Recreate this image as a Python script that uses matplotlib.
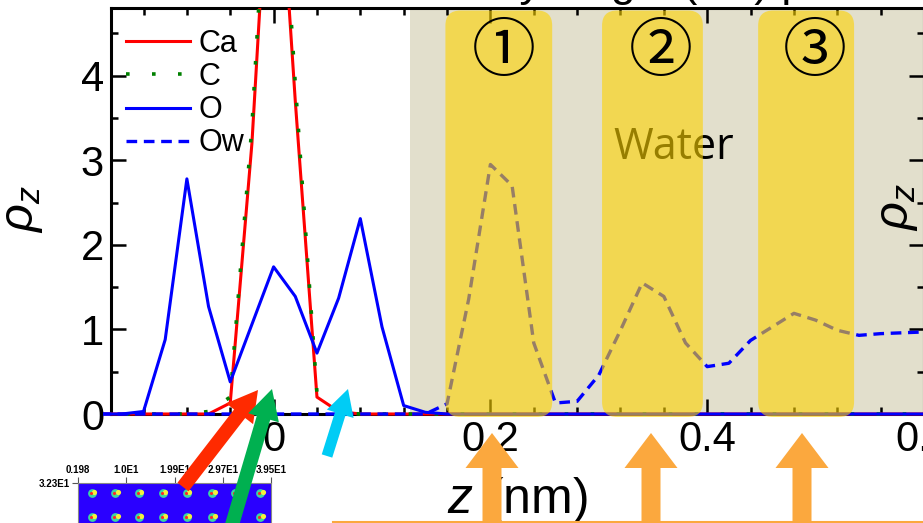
import matplotlib
matplotlib.use("Agg")
import matplotlib.pyplot as plt
from matplotlib.patches import FancyBboxPatch, FancyArrow, Rectangle
from matplotlib.ticker import MultipleLocator, FuncFormatter
from matplotlib.lines import Line2D

plt.rcParams['font.family'] = ['Liberation Sans', 'DejaVu Sans']
plt.rcParams['mathtext.fontset'] = 'custom'
plt.rcParams['mathtext.it'] = 'Liberation Sans:italic'
plt.rcParams['mathtext.rm'] = 'Liberation Sans'

# ---------------- data ----------------
z = [-0.16, -0.14, -0.12, -0.10, -0.08, -0.06, -0.04, -0.02, 0.00, 0.02,
     0.04, 0.06, 0.08, 0.10, 0.12, 0.14, 0.16, 0.18, 0.20, 0.22,
     0.24, 0.26, 0.28, 0.30, 0.32, 0.34, 0.36, 0.38, 0.40, 0.42,
     0.44, 0.46, 0.48, 0.50, 0.52, 0.54, 0.56, 0.58, 0.60]
rho_Ca = [0, 0, 0, 0, 0, 0.0, 0.13, 3.2, 7.6, 3.7,
          0.2, 0.03, 0, 0, 0, 0, 0, 0, 0, 0,
          0, 0, 0, 0, 0, 0, 0, 0, 0, 0,
          0, 0, 0, 0, 0, 0, 0, 0, 0]
rho_C = [0, 0, 0, 0, 0, 0.03, 0.2, 3.4, 7.9, 3.9,
         0.25, 0.02, 0, 0, 0, 0, 0, 0, 0, 0,
         0, 0, 0, 0, 0, 0, 0, 0, 0, 0,
         0, 0, 0, 0, 0, 0, 0, 0, 0]
rho_O = [0, 0, 0.03, 0.88, 2.78, 1.27, 0.38, 1.06, 1.74, 1.39,
         0.72, 1.37, 2.31, 1.03, 0.10, 0.02, 0, 0, 0, 0,
         0, 0, 0, 0, 0, 0, 0, 0, 0, 0,
         0, 0, 0, 0, 0, 0, 0, 0, 0]
rho_Ow = [0, 0, 0, 0, 0, 0, 0, 0, 0, 0,
          0, 0, 0, 0, 0, 0, 0.12, 1.36, 2.95, 2.70,
          0.84, 0.13, 0.15, 0.46, 0.99, 1.55, 1.39, 0.84, 0.56, 0.60,
          0.87, 1.03, 1.19, 1.11, 0.99, 0.93, 0.95, 0.96, 0.97]

series_names = ['Ca', 'C', 'O', 'Ow']
layer_labels = ['\u2460', '\u2461', '\u2462']
layer_centers = [0.212, 0.357, 0.4995]
layer_bounds = [(0.1585, 0.257), (0.303, 0.396), (0.447, 0.5355)]
water_start = 0.126
xtick_vals = [0.0, 0.2, 0.4, 0.6]
ytick_vals = [0, 1, 2, 3, 4]

inset_xticks = [0.198, 10.0, 19.9, 29.7, 39.5]
inset_xlabels = ['0.198', '1.0E1', '1.99E1', '2.97E1', '3.95E1']
inset_ytick = 32.3
inset_ylabel = '3.23E1'
blob_x = [3.0, 7.8, 12.6, 17.5, 22.4, 27.5, 32.2, 37.3]
blob_y = [30.3, 25.4]

# ---------------- figure ----------------
W, H = 923, 523
fig = plt.figure(figsize=(W / 100, H / 100), dpi=100)
ax = fig.add_axes([111 / W, 1 - 414 / H, 813 / W, 406 / H])
ax.set_xlim(-0.15, 0.60)
ax.set_ylim(0, 4.8)

grey = '#E2DFCC'
ax.axvspan(water_start, 0.7, color=grey, zorder=0, lw=0)

clip = Rectangle((-0.01, -0.03), 1.02, 1.03, transform=ax.transAxes,
                 facecolor='none', edgecolor='none')
ax.add_patch(clip)

lCa, = ax.plot(z, rho_Ca, color='#FF0000', lw=2.2, zorder=3.0)
lC, = ax.plot(z, rho_C, color='#008000', lw=2.6, ls=(0, (1, 6.2)), zorder=3.1)
lO, = ax.plot(z, rho_O, color='#0000FF', lw=2.2, zorder=3.2)
lOw, = ax.plot(z, rho_Ow, color='#0000FF', lw=2.4, ls=(0, (3.2, 2.0)), zorder=3.3)
for ln in (lO, lCa, lC, lOw):
    ln.set_clip_path(clip)

ax.set_xticks(xtick_vals)
ax.xaxis.set_minor_locator(MultipleLocator(0.04))
ax.xaxis.set_major_formatter(FuncFormatter(lambda v, p: '%g' % v))
ax.set_yticks(ytick_vals)
ax.yaxis.set_minor_locator(MultipleLocator(0.5))
ax.tick_params(which='both', direction='in', top=True, right=True, width=1.8,
               colors='black', labelsize=30)
ax.tick_params(which='major', length=11)
ax.tick_params(which='minor', length=5)
ax.tick_params(axis='x', pad=4)
ax.tick_params(axis='y', pad=5)
for s in ax.spines.values():
    s.set_linewidth(2.2)
    s.set_zorder(2.5)

ax.set_ylabel(r'$\rho_z$', fontsize=35)
ax.yaxis.set_label_coords(-0.081, 0.505)
ax.set_xlabel(r'$z$ (nm)', fontsize=36)
ax.xaxis.set_label_coords(0.5, -0.150)

leg = ax.legend([lCa, lC, lO, lOw], series_names, loc='upper left',
                bbox_to_anchor=(0.018, 0.948), frameon=False, fontsize=22,
                borderpad=0, borderaxespad=0, handlelength=2.1,
                handletextpad=0.3, labelspacing=0.1)
leg.set_zorder(6)

ax.text(0.313, 3.02, 'Water', fontsize=31, family=['Open Sans', 'DejaVu Sans'],
        color='black', va='baseline', ha='left', zorder=6)

# ---------- figure-level overlays (pixel based via inches) ----------
def to_in(xd, yd):
    X, Y = ax.transData.transform((xd, yd))
    return X / 100, Y / 100

for (a, b) in layer_bounds:
    x0, y0 = to_in(a, -0.035)
    x1, y1 = to_in(b, 4.77)
    box = FancyBboxPatch((x0, y0), x1 - x0, y1 - y0,
                         boxstyle='round,pad=0,rounding_size=0.15',
                         transform=fig.dpi_scale_trans, facecolor='#FDD300',
                         edgecolor='none', alpha=0.6, zorder=5)
    fig.add_artist(box)

for lab, zc in zip(layer_labels, layer_centers):
    xi, yi = to_in(zc, 4.27)
    fig.text(xi, yi, lab, transform=fig.dpi_scale_trans, ha='center', va='center',
             fontsize=46, family=['Noto Sans CJK JP', 'DejaVu Sans'],
             color='black', zorder=7)

# right partial ylabel of neighbouring panel
fig.text(897 / W, 1 - 207 / H, r'$\rho_z$', rotation=90, ha='center', va='center',
         fontsize=35, zorder=4)

# cut title at top
fig.text(413 / W, 1 + 4 / H, 'ces by single (Ca) po', fontsize=32,
         ha='left', va='baseline')

# inset heat map
ins = fig.add_axes([78 / W, 1 - 540 / H, 193 / W, 57 / H])
ins.set_facecolor('#2A00FF')
ins.set_xlim(0.198, 39.5)
ins.set_ylim(20.6, 32.3)
ins.xaxis.tick_top()
ins.set_xticks(inset_xticks)
ins.set_xticklabels(inset_xlabels, fontsize=7, fontweight='bold')
ins.set_yticks([inset_ytick])
ins.set_yticklabels([inset_ylabel], fontsize=7, fontweight='bold')
ins.tick_params(direction='out', length=4, width=0.8, pad=2, colors='#555555',
                labelcolor='black')
for s in ins.spines.values():
    s.set_color('#888888')
    s.set_linewidth(0.8)
for by in blob_y:
    for bx in blob_x:
        ins.scatter([bx], [by], s=40, color='#3CD6A0', lw=0, zorder=2)
        ins.scatter([bx + 0.5], [by + 0.2], s=14, color='#F5F03C', lw=0, zorder=3)
        ins.scatter([bx - 0.2], [by - 0.1], s=5, color='#FF2828', lw=0, zorder=4)

# arrows (pixel coords -> inches)
def arrow(x0, y0, x1, y1, w, hw, hl, color):
    a = FancyArrow(x0 / 100, (H - y0) / 100, (x1 - x0) / 100, -(y1 - y0) / 100,
                   width=w / 100, head_width=hw / 100, head_length=hl / 100,
                   length_includes_head=True, transform=fig.dpi_scale_trans,
                   color=color, lw=0, zorder=8)
    fig.add_artist(a)

arrow(183, 487, 258, 390, 14, 34, 30, '#FF2A00')
arrow(229, 535, 272, 389, 14, 32, 30, '#00B050')
arrow(327, 456, 348, 389, 11, 28, 26, '#00CCF5')
for xa in [492, 651, 802]:
    arrow(xa, 530, xa, 433, 19, 53, 35, '#FBA83E')
fig.add_artist(Line2D([333 / 100, 930 / 100], [(H - 521.5) / 100] * 2,
                      transform=fig.dpi_scale_trans, color='#FBA83E', lw=1.5,
                      zorder=7))

fig.savefig('out.png', dpi=100)
